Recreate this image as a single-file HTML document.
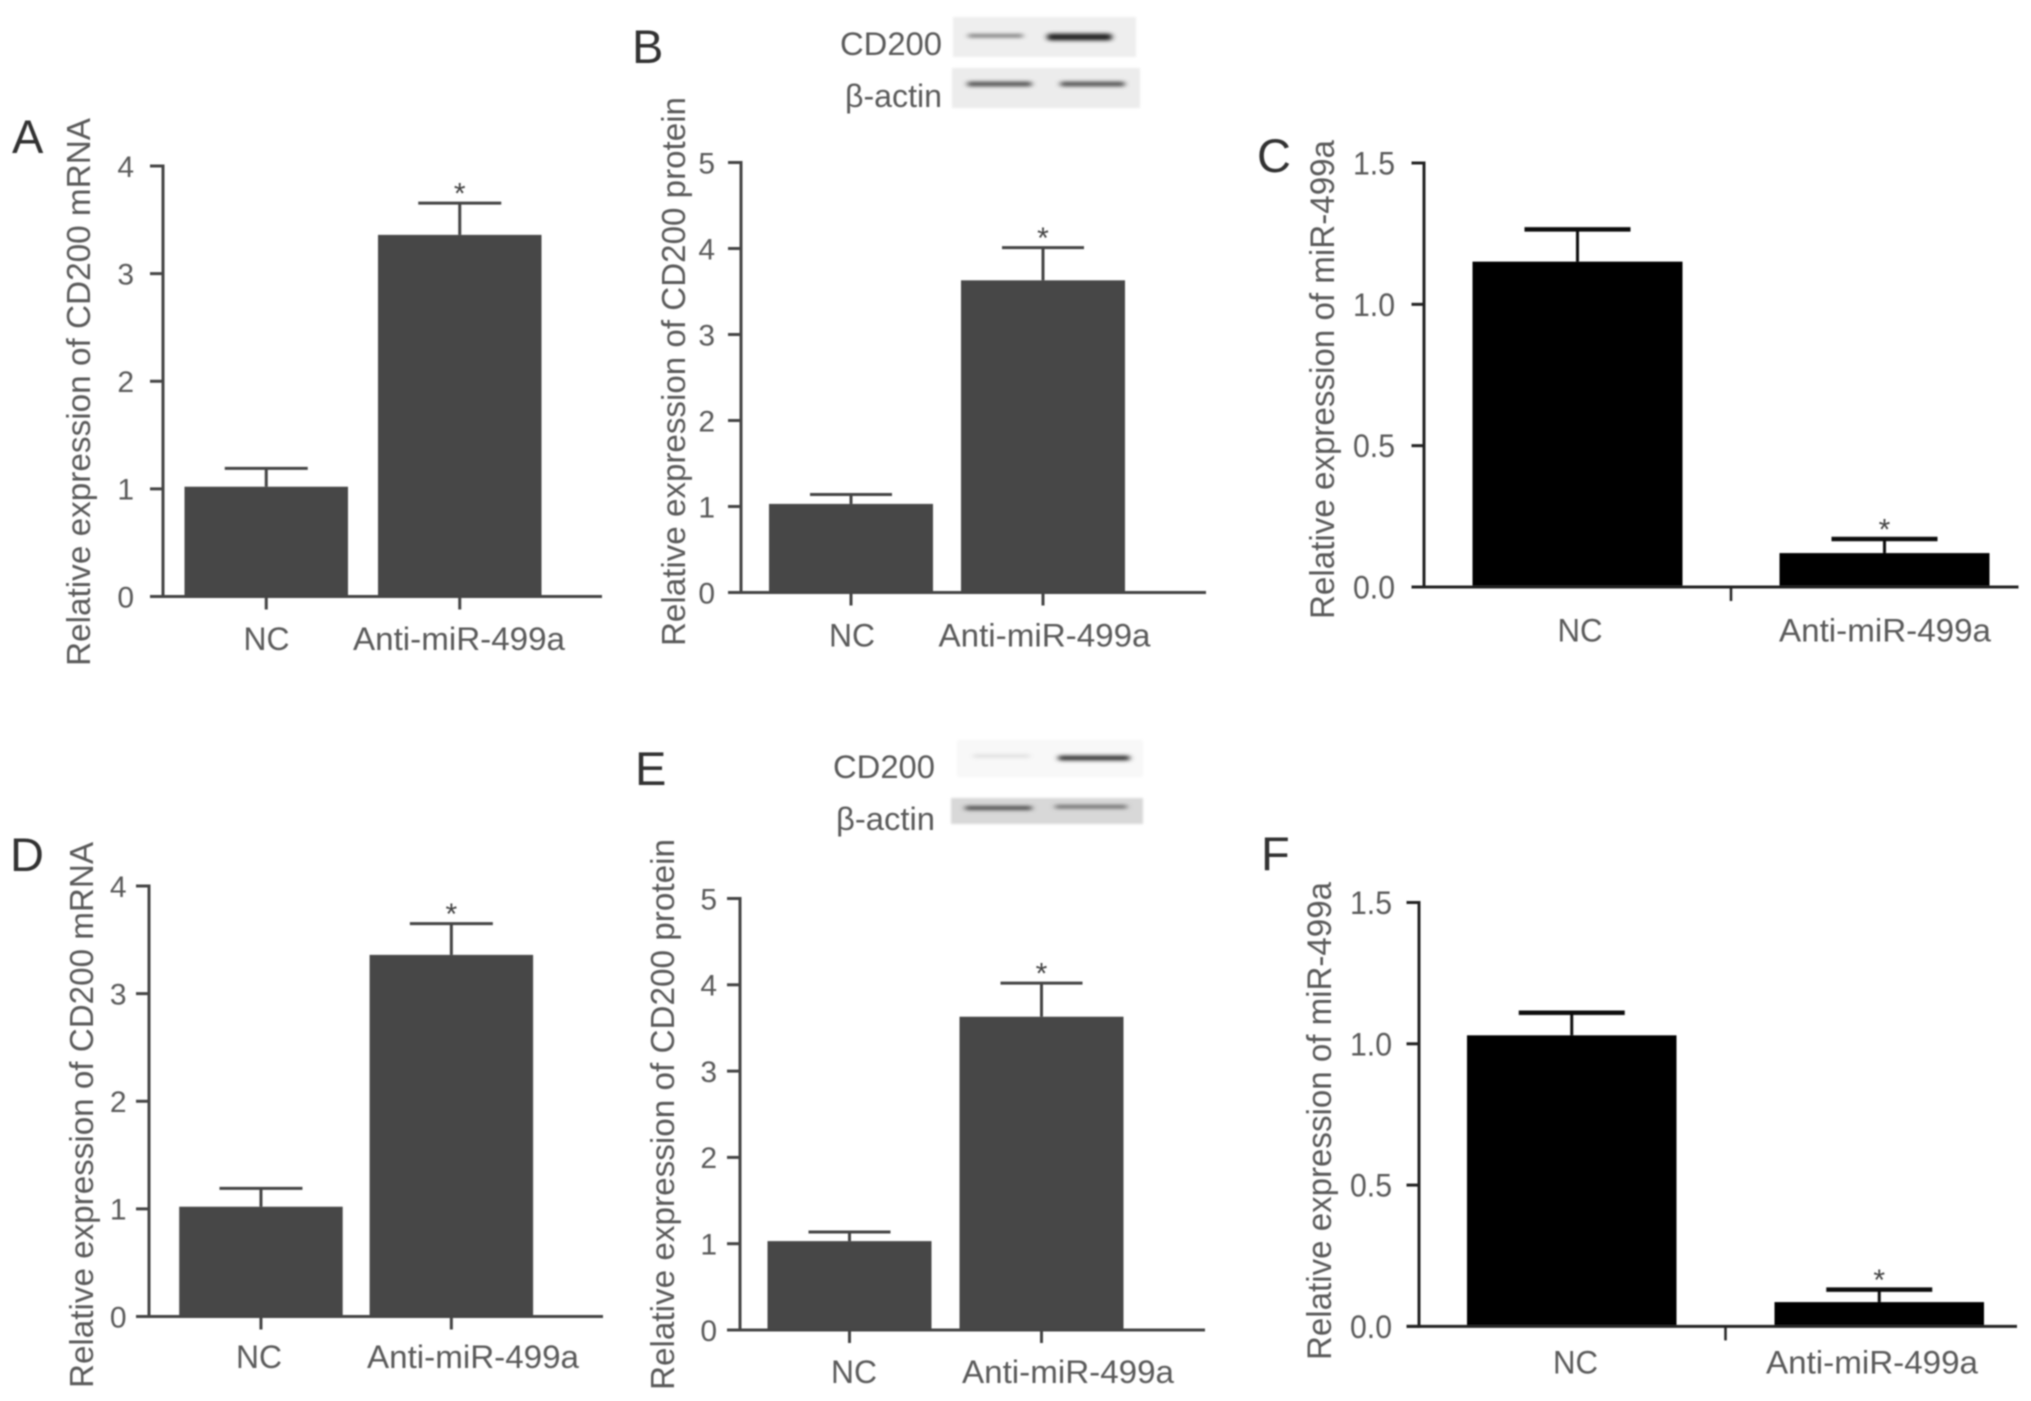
<!DOCTYPE html>
<html lang="en">
<head>
<meta charset="utf-8">
<title>CD200 and miR-499a relative expression panels</title>
<style>
  html, body { margin: 0; padding: 0; background: #fff; width: 2031px; height: 1401px; overflow: hidden; }
  svg { display: block; }
  text { font-family: "Liberation Sans", "Noto Sans CJK SC", sans-serif; fill: #5a5a5a; }
  .letter { fill: #333; font-size: 47px; }
  .blot-label { font-size: 32px; }
</style>
</head>
<body>
<svg id="figure" xmlns="http://www.w3.org/2000/svg" width="2031" height="1401" viewBox="0 0 2031 1401">
  <defs>
    <filter id="soft" x="-5%" y="-5%" width="110%" height="110%"><feGaussianBlur stdDeviation="0.8"/></filter>
    <filter id="band" x="-30%" y="-300%" width="160%" height="700%"><feGaussianBlur stdDeviation="3 1.9"/></filter>
    <filter id="edge" x="-5%" y="-10%" width="110%" height="120%"><feGaussianBlur stdDeviation="1"/></filter>
  </defs>
  <g id="root" filter="url(#soft)">
    <text class="letter" x="12" y="153">A</text>
    <text class="letter" x="632" y="63">B</text>
    <text class="letter" x="1257" y="172">C</text>
    <text class="letter" x="10" y="871">D</text>
    <text class="letter" x="635" y="785">E</text>
    <text class="letter" x="1261" y="870">F</text>

    <g>
      <text class="blot-label" x="840" y="55" textLength="102" lengthAdjust="spacingAndGlyphs">CD200</text>
      <text class="blot-label" x="845" y="107" textLength="97" lengthAdjust="spacingAndGlyphs">β-actin</text>
      <rect x="953" y="17" width="183" height="40" fill="#eeeeee" filter="url(#edge)"/>
      <rect x="952" y="68" width="188" height="40" fill="#ececec" filter="url(#edge)"/>
      <rect x="968" y="34" width="55" height="3.5" rx="1.5" fill="#777" filter="url(#band)"/>
      <rect x="1047" y="33.5" width="65" height="7" rx="3" fill="#222" filter="url(#band)"/>
      <rect x="967" y="81.5" width="65" height="5" rx="2.5" fill="#555" filter="url(#band)"/>
      <rect x="1060" y="81.5" width="65" height="5" rx="2.5" fill="#555" filter="url(#band)"/>
    </g>

    <g>
      <text class="blot-label" x="833" y="778" textLength="102" lengthAdjust="spacingAndGlyphs">CD200</text>
      <text class="blot-label" x="836" y="830" textLength="99" lengthAdjust="spacingAndGlyphs">β-actin</text>
      <rect x="957" y="740" width="186" height="37" fill="#f8f8f8" filter="url(#edge)"/>
      <rect x="951" y="798" width="192" height="26" fill="#d8d8d8" filter="url(#edge)"/>
      <rect x="973" y="754.5" width="57" height="3" rx="1.5" fill="#dcdcdc" filter="url(#band)"/>
      <rect x="1058" y="755.5" width="72" height="5" rx="2.5" fill="#333" filter="url(#band)"/>
      <rect x="965" y="806" width="67" height="4" rx="2" fill="#444" filter="url(#band)"/>
      <rect x="1055" y="805" width="72" height="3.5" rx="1.5" fill="#666" filter="url(#band)"/>
    </g>
  </g>
</svg>
<script>
// ---- chart data ----
const categories = ['NC', 'Anti-miR-499a'];

const mrnaTicks = ['0', '1', '2', '3', '4'];
const proteinTicks = ['0', '1', '2', '3', '4', '5'];
const mirTicks = ['0.0', '0.5', '1.0', '1.5'];

const panelAMeans = [1.02, 3.36];
const panelATops = [1.19, 3.655];
const panelBMeans = [1.03, 3.63];
const panelBTops = [1.14, 4.01];
const panelCMeans = [1.151, 0.12];
const panelCTops = [1.265, 0.17];
const panelDMeans = [1.02, 3.36];
const panelDTops = [1.19, 3.65];
const panelEMeans = [1.03, 3.63];
const panelETops = [1.135, 4.02];
const panelFMeans = [1.03, 0.086];
const panelFTops = [1.11, 0.13];

const panelAMarked = [false, true];
const panelBMarked = [false, true];
const panelCMarked = [false, true];
const panelDMarked = [false, true];
const panelEMarked = [false, true];
const panelFMarked = [false, true];

const mrnaTitle = 'Relative expression of CD200 mRNA';
const proteinTitle = 'Relative expression of CD200 protein';
const mirTitle = 'Relative expression of miR-499a';

// ---- panel layout ----
const inkGrey = { axis: '#444', bar: '#474747', capW: 3 };
const inkBlack = { axis: '#222', bar: '#000', capW: 4.5 };

const panels = [
  { id: 'a', means: panelAMeans, tops: panelATops, marked: panelAMarked, ticks: mrnaTicks, title: mrnaTitle, ink: inkGrey,
    axisX: 163, tickLeft: 150, axisRight: 602, y0: 596.5, yTop: 166, barLeft: 184.5, barW: 163.5, barStep: 193.5, capHalf: 41.5,
    tickRight: 134, tickFs: 30, tickLen: 0, titleX: 90, titleBottom: 666, titleLen: 548, titleFs: 33,
    catCx: [266.5, 459], catLen: [46, 212], catBase: 650, midTick: false },
  { id: 'b', means: panelBMeans, tops: panelBTops, marked: panelBMarked, ticks: proteinTicks, title: proteinTitle, ink: inkGrey,
    axisX: 741, tickLeft: 728, axisRight: 1206, y0: 592.5, yTop: 162.5, barLeft: 769, barW: 164, barStep: 192, capHalf: 41,
    tickRight: 715, tickFs: 30, tickLen: 0, titleX: 685, titleBottom: 646, titleLen: 549, titleFs: 33,
    catCx: [852, 1044.5], catLen: [46, 212], catBase: 646.4, midTick: false },
  { id: 'c', means: panelCMeans, tops: panelCTops, marked: panelCMarked, ticks: mirTicks, title: mirTitle, ink: inkBlack,
    axisX: 1424, tickLeft: 1411.5, axisRight: 2018.5, y0: 587, yTop: 163, barLeft: 1472.5, barW: 210, barStep: 307, capHalf: 53,
    tickRight: 1395, tickFs: 32, tickLen: 42, titleX: 1334, titleBottom: 619, titleLen: 479, titleFs: 34,
    catCx: [1580, 1885], catLen: [45, 212], catBase: 641.5, midTick: true },
  { id: 'd', means: panelDMeans, tops: panelDTops, marked: panelDMarked, ticks: mrnaTicks, title: mrnaTitle, ink: inkGrey,
    axisX: 149, tickLeft: 136, axisRight: 603, y0: 1316.5, yTop: 886, barLeft: 179.2, barW: 163.5, barStep: 190.4, capHalf: 41.5,
    tickRight: 126.5, tickFs: 30, tickLen: 0, titleX: 93, titleBottom: 1388, titleLen: 546, titleFs: 33,
    catCx: [259, 473], catLen: [46, 212], catBase: 1368, midTick: false },
  { id: 'e', means: panelEMeans, tops: panelETops, marked: panelEMarked, ticks: proteinTicks, title: proteinTitle, ink: inkGrey,
    axisX: 740, tickLeft: 727, axisRight: 1205, y0: 1330, yTop: 898.5, barLeft: 767.5, barW: 164, barStep: 192, capHalf: 41,
    tickRight: 717, tickFs: 30, tickLen: 0, titleX: 674, titleBottom: 1390, titleLen: 551, titleFs: 33,
    catCx: [854, 1068], catLen: [46, 212], catBase: 1383, midTick: false },
  { id: 'f', means: panelFMeans, tops: panelFTops, marked: panelFMarked, ticks: mirTicks, title: mirTitle, ink: inkBlack,
    axisX: 1419, tickLeft: 1406.5, axisRight: 2017, y0: 1326.4, yTop: 902.5, barLeft: 1467, barW: 209.5, barStep: 307.5, capHalf: 53,
    tickRight: 1392, tickFs: 32, tickLen: 42, titleX: 1331, titleBottom: 1360, titleLen: 478, titleFs: 34,
    catCx: [1575.5, 1872], catLen: [45, 212], catBase: 1373.7, midTick: true }
];

const NS = 'http://www.w3.org/2000/svg';
const root = document.getElementById('root');

function make(parent, tag, attrs, content) {
  const node = document.createElementNS(NS, tag);
  for (const key in attrs) node.setAttribute(key, attrs[key]);
  if (content !== undefined) node.textContent = content;
  parent.appendChild(node);
  return node;
}

function drawPanel(p) {
  const group = make(root, 'g', {});
  
  

  const maxTick = Number(p.ticks[p.ticks.length - 1]);
  const yScale = v => p.y0 - (v / maxTick) * (p.y0 - p.yTop);
  const barX = i => p.barLeft + i * p.barStep;
  const barCx = i => barX(i) + p.barW / 2;

  // bars and error bars
  categories.forEach((cat, i) => {
    const top = yScale(p.means[i]);
    const bar = make(group, 'rect', { x: barX(i), y: top, width: p.barW, height: p.y0 - top, fill: p.ink.bar });
    
    

    const capY = yScale(p.tops[i]);
    const stem = make(group, 'line', { x1: barCx(i), x2: barCx(i), y1: top, y2: capY, stroke: p.ink.bar === '#000' ? '#111' : p.ink.axis, 'stroke-width': 3 });
    
    

    const cap = make(group, 'line', { x1: barCx(i) - p.capHalf, x2: barCx(i) + p.capHalf, y1: capY, y2: capY, stroke: p.ink.bar === '#000' ? '#111' : p.ink.axis, 'stroke-width': p.ink.capW });
    
    

    if (p.marked[i]) {
      const star = make(group, 'text', { x: barCx(i), y: capY + 0.5, 'text-anchor': 'middle', 'font-size': 30, style: 'fill:#444' }, '*');
      
      
    }

    const label = make(group, 'text', { x: p.catCx[i], y: p.catBase, 'text-anchor': 'middle', 'font-size': 32, textLength: p.catLen[i], lengthAdjust: 'spacingAndGlyphs' }, cat);
    
    

    if (!p.midTick) {
      const tick = make(group, 'line', { x1: barCx(i), x2: barCx(i), y1: p.y0, y2: p.y0 + 13, stroke: p.ink.axis, 'stroke-width': 3 });
      
      
    }
  });

  if (p.midTick) {
    const midX = (barCx(0) + barCx(1)) / 2;
    const mid = make(group, 'line', { x1: midX, x2: midX, y1: p.y0, y2: p.y0 + 14, stroke: p.ink.axis, 'stroke-width': 2.5 });
    
    
  }

  // axes
  const yAxis = make(group, 'line', { x1: p.axisX, x2: p.axisX, y1: p.yTop - 1.5, y2: p.y0 + 1.5, stroke: p.ink.axis, 'stroke-width': 3 });
  
  

  const xAxis = make(group, 'line', { x1: p.tickLeft, x2: p.axisRight, y1: p.y0, y2: p.y0, stroke: p.ink.axis, 'stroke-width': 3 });
  
  

  p.ticks.forEach(t => {
    const y = yScale(Number(t));
    const tick = make(group, 'line', { x1: p.tickLeft, x2: p.axisX, y1: y, y2: y, stroke: p.ink.axis, 'stroke-width': 3 });
    
    

    const attrs = { x: p.tickRight, y: y + p.tickFs * 0.36, 'text-anchor': 'end', 'font-size': p.tickFs };
    if (p.tickLen && t.length > 1) { attrs.textLength = p.tickLen; attrs.lengthAdjust = 'spacingAndGlyphs'; }
    const label = make(group, 'text', attrs, t);
    
    
  });

  // y-axis title
  const title = make(group, 'text', {
    x: p.titleX, y: p.titleBottom,
    transform: 'rotate(-90 ' + p.titleX + ' ' + p.titleBottom + ')',
    'font-size': p.titleFs, textLength: p.titleLen, lengthAdjust: 'spacingAndGlyphs'
  }, p.title);
  
  
}

panels.forEach(drawPanel);
</script>
</body>
</html>
